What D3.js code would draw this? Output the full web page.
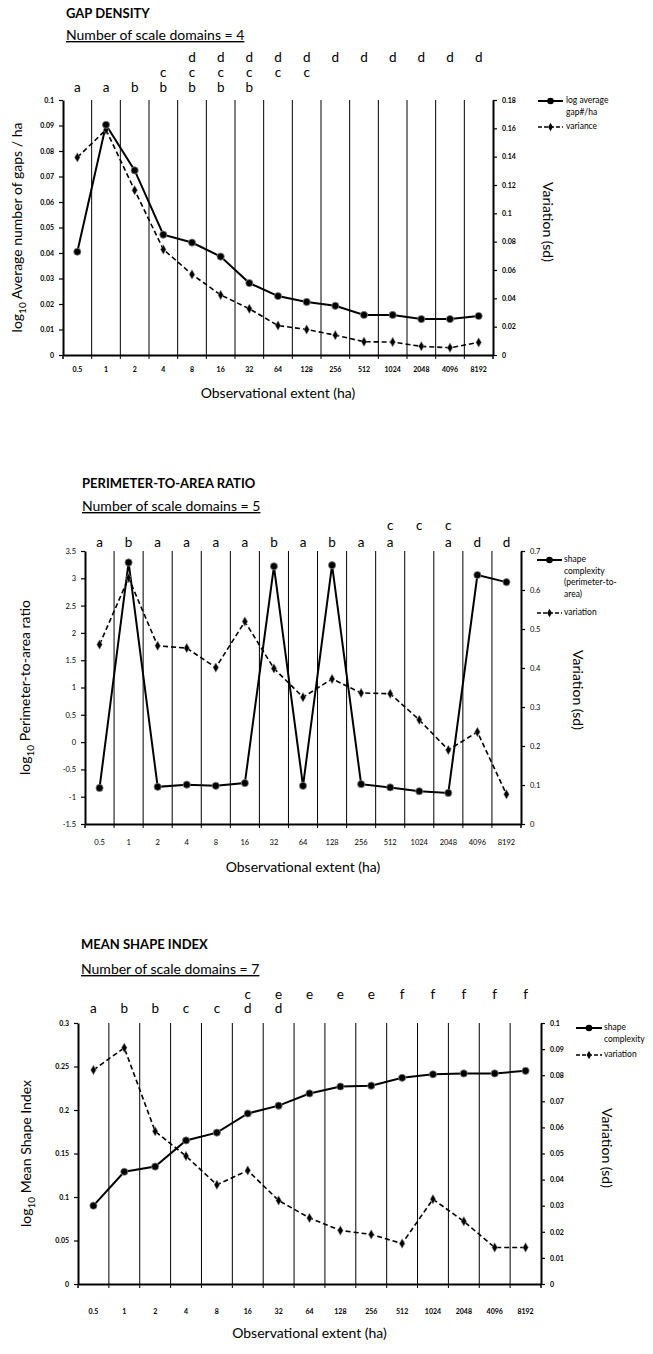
<!DOCTYPE html>
<html><head><meta charset="utf-8">
<script src="https://cdn.jsdelivr.net/npm/d3@7"></script>
<style>
html,body{margin:0;padding:0;background:#fff;}
text{font-family:Lato,"Open Sans",sans-serif;fill:#000;}
</style></head>
<body>
<svg id="chart" width="653" height="1354"></svg>
<script>
// ---------- DATA ----------
const extents = ["0.5","1","2","4","8","16","32","64","128","256","512","1024","2048","4096","8192"];

// Panel 1: gap density
const gapDensity  = [0.0405,0.0903,0.0724,0.0472,0.0441,0.0386,0.0282,0.0231,0.0208,0.0193,0.0157,0.0157,0.0141,0.0141,0.0153];
const gapVariance = [0.1395,0.159,0.1163,0.0745,0.0569,0.0424,0.0326,0.0208,0.018,0.014,0.0094,0.0091,0.0061,0.0051,0.0089];
const gapLetters  = [["","","a"],["","","a"],["","","b"],["","c","b"],["d","c","b"],["d","c","b"],["d","c","b"],["d","c",""],["d","c",""],["d","",""],["d","",""],["d","",""],["d","",""],["d","",""],["d","",""]];
const gapLeftTicks  = [0,0.01,0.02,0.03,0.04,0.05,0.06,0.07,0.08,0.09,0.1];
const gapRightTicks = [0,0.02,0.04,0.06,0.08,0.1,0.12,0.14,0.16,0.18];

// Panel 2: perimeter-to-area ratio
const parRatio     = [-0.84,3.29,-0.82,-0.78,-0.8,-0.75,3.22,-0.8,3.24,-0.77,-0.83,-0.9,-0.93,3.06,2.93];
const parVariation = [0.46,0.631,0.457,0.451,0.401,0.519,0.399,0.325,0.372,0.336,0.334,0.267,0.19,0.236,0.076];
const parLetters   = [["","a"],["","b"],["","a"],["","a"],["","a"],["","a"],["","b"],["","a"],["","b"],["","a"],["c","a"],["c",""],["c","a"],["","d"],["","d"]];
const parLeftTicks  = [-1.5,-1,-0.5,0,0.5,1,1.5,2,2.5,3,3.5];
const parRightTicks = [0,0.1,0.2,0.3,0.4,0.5,0.6,0.7];

// Panel 3: mean shape index
const msiIndex     = [0.09,0.129,0.135,0.165,0.174,0.196,0.205,0.219,0.227,0.228,0.237,0.241,0.242,0.242,0.245];
const msiVariation = [0.082,0.0905,0.0585,0.049,0.038,0.0435,0.032,0.0253,0.0205,0.019,0.0155,0.0325,0.024,0.014,0.014];
const msiLetters   = [["","a"],["","b"],["","b"],["","c"],["","c"],["c","d"],["e","d"],["e",""],["e",""],["e",""],["f",""],["f",""],["f",""],["f",""],["f",""]];
const msiLeftTicks  = [0,0.05,0.1,0.15,0.2,0.25,0.3];
const msiRightTicks = [0,0.01,0.02,0.03,0.04,0.05,0.06,0.07,0.08,0.09,0.1];

// ---------- DRAW ----------
const svg = d3.select("#chart");
svg.append("rect").attr("width",653).attr("height",1354).attr("fill","#fff");

const panels = [
  {title:"GAP DENSITY", subtitle:"Number of scale domains = 4", tx:66, ty:18, sy:40,
   left:63, right:493, top:100, bottom:355, yL:[0,0.1], yR:[0,0.18],
   lt:gapLeftTicks, rt:gapRightTicks, main:gapDensity, vari:gapVariance,
   letters:gapLetters, letterY:[62,77,92], bold:true, tickFs:7,
   xLabY:370, xTitleY:398, yTitle:" Average number of gaps / ha", yTitleX:22,
   varX:543, varY:222,
   legend:{x1:538,x2:563,tx:566,rows:[{lines:["log average","gap#/ha"],y:101,type:"s"},{lines:["variance"],y:127,type:"d"}]}},
  {title:"PERIMETER-TO-AREA RATIO", subtitle:"Number of scale domains = 5", tx:82, ty:488, sy:511,
   left:85, right:521, top:551, bottom:824, yL:[-1.5,3.5], yR:[0,0.7],
   lt:parLeftTicks, rt:parRightTicks, main:parRatio, vari:parVariation,
   letters:parLetters, letterY:[530,547], bold:false, tickFs:7.5,
   xLabY:843, xTitleY:872, yTitle:" Perimeter-to-area ratio", yTitleX:30,
   varX:573, varY:690,
   legend:{x1:537,x2:562,tx:564,rows:[{lines:["shape","complexity","(perimeter-to-","area)"],y:560,type:"s"},{lines:["variation"],y:613,type:"d"}]}},
  {title:"MEAN SHAPE INDEX", subtitle:"Number of scale domains = 7", tx:81, ty:949, sy:974,
   left:78, right:541, top:1023, bottom:1284, yL:[0,0.3], yR:[0,0.1],
   lt:msiLeftTicks, rt:msiRightTicks, main:msiIndex, vari:msiVariation,
   letters:msiLetters, letterY:[999,1013], bold:true, tickFs:7,
   xLabY:1312, xTitleY:1338, yTitle:" Mean Shape Index", yTitleX:31,
   varX:602, varY:1148,
   legend:{x1:576,x2:602,tx:604,rows:[{lines:["shape","complexity"],y:1028,type:"s"},{lines:["variation"],y:1055,type:"d"}]}}
];

const diamond = d3.symbol().type(d3.symbolDiamond).size(26);

panels.forEach(p => {
  const g = svg.append("g");
  const x = d3.scaleBand().domain(extents).range([p.left, p.right]).padding(0);
  const yL = d3.scaleLinear().domain(p.yL).range([p.bottom, p.top]);
  const yR = d3.scaleLinear().domain(p.yR).range([p.bottom, p.top]);
  const cx = d => x(d) + x.bandwidth()/2;

  // titles
  g.append("text").attr("x",p.tx).attr("y",p.ty).attr("font-size",13).attr("font-weight","bold").text(p.title);
  g.append("text").attr("x",p.tx).attr("y",p.sy).attr("font-size",14).attr("text-decoration","underline").text(p.subtitle);

  // letters
  extents.forEach((e,i) => {
    p.letters[i].forEach((l,r) => {
      if (l) g.append("text").attr("x",cx(e)).attr("y",p.letterY[r]).attr("text-anchor","middle")
        .attr("font-size",13.5).text(l);
    });
  });

  // vertical gridlines at band boundaries
  extents.slice(1).forEach(e => {
    g.append("line").attr("x1",x(e)).attr("x2",x(e)).attr("y1",p.top).attr("y2",p.bottom+4)
      .attr("stroke","#000").attr("stroke-width",1);
  });
  [p.left, p.right].forEach(xx => g.append("line").attr("x1",xx).attr("x2",xx).attr("y1",p.bottom).attr("y2",p.bottom+4).attr("stroke","#000").attr("stroke-width",1.5));

  // axes
  const fmt = d => String(d);
  const ax = g.append("g").attr("transform",`translate(${p.left},0)`)
    .call(d3.axisLeft(yL).tickValues(p.lt).tickFormat(fmt).tickSize(4).tickSizeOuter(0).tickPadding(5));
  const ar = g.append("g").attr("transform",`translate(${p.right},0)`)
    .call(d3.axisRight(yR).tickValues(p.rt).tickFormat(fmt).tickSize(4).tickSizeOuter(0).tickPadding(5));
  const ab = g.append("g").attr("transform",`translate(0,${p.bottom})`)
    .call(d3.axisBottom(x).tickSize(0).tickSizeOuter(0).tickPadding(0));
  [ax,ar,ab].forEach(a => {
    a.select(".domain").attr("stroke","#000").attr("stroke-width",2);
    a.selectAll(".tick line").attr("stroke","#000").attr("stroke-width",1.2);
    a.selectAll("text").attr("font-size",p.tickFs).attr("font-weight",p.bold?"bold":"normal")
      .attr("font-family","Lato, sans-serif").attr("fill","#000");
  });
  ab.selectAll(".tick text").attr("dy",null).attr("y",p.xLabY - p.bottom).attr("dominant-baseline","middle");

  // axis titles
  g.append("text").attr("x",(p.left+p.right)/2).attr("y",p.xTitleY).attr("text-anchor","middle")
    .attr("font-size",14).text("Observational extent (ha)");
  const yt = g.append("text").attr("transform",`translate(${p.yTitleX},${(p.top+p.bottom)/2}) rotate(-90)`)
    .attr("text-anchor","middle").attr("font-size",14);
  yt.append("tspan").text("log");
  yt.append("tspan").attr("font-size",10).attr("dy",4).text("10");
  yt.append("tspan").attr("dy",-4).text(p.yTitle);
  g.append("text").attr("transform",`translate(${p.varX},${p.varY}) rotate(90)`)
    .attr("text-anchor","middle").attr("font-size",14).text("Variation (sd)");

  // series
  const lineL = d3.line().x((d,i)=>cx(extents[i])).y(d=>yL(d));
  const lineR = d3.line().x((d,i)=>cx(extents[i])).y(d=>yR(d));
  g.append("path").datum(p.vari).attr("d",lineR).attr("fill","none").attr("stroke","#000")
    .attr("stroke-width",1.6).attr("stroke-dasharray","5,3");
  g.append("path").datum(p.main).attr("d",lineL).attr("fill","none").attr("stroke","#000").attr("stroke-width",2);
  p.vari.forEach((v,i) => g.append("path").attr("d",diamond())
    .attr("transform",`translate(${cx(extents[i])},${yR(v)})`).attr("fill","#000").attr("stroke","#999").attr("stroke-width",0.6));
  p.main.forEach((v,i) => g.append("circle").attr("cx",cx(extents[i])).attr("cy",yL(v)).attr("r",3.6)
    .attr("fill","#000").attr("stroke","#888").attr("stroke-width",0.8));

  // legend
  const L = p.legend;
  L.rows.forEach(r => {
    const mx = (L.x1+L.x2)/2;
    g.append("line").attr("x1",L.x1).attr("x2",L.x2).attr("y1",r.y).attr("y2",r.y).attr("stroke","#000")
      .attr("stroke-width",r.type==="s"?2:1.6).attr("stroke-dasharray",r.type==="s"?null:"4,2");
    if (r.type==="s") g.append("circle").attr("cx",mx).attr("cy",r.y).attr("r",3.3).attr("fill","#000");
    else g.append("path").attr("d",d3.symbol().type(d3.symbolDiamond).size(20)()).attr("transform",`translate(${mx},${r.y})`).attr("fill","#000");
    r.lines.forEach((t,k) => g.append("text").attr("x",L.tx).attr("y",r.y + k*11.5).attr("dominant-baseline","middle")
      .attr("font-size",8.5).text(t));
  });
});
</script>
</body></html>
